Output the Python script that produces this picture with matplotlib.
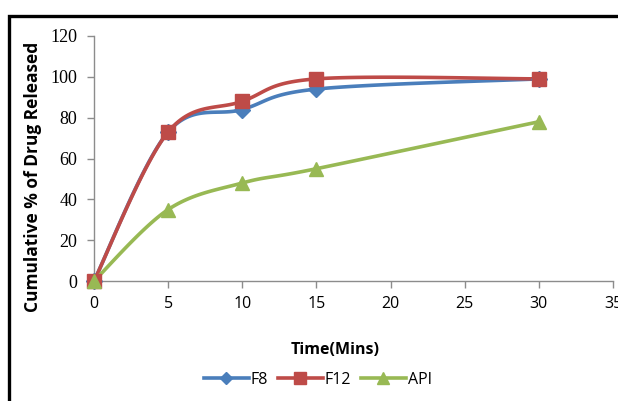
import numpy as np
import matplotlib
matplotlib.use("Agg")
import matplotlib.pyplot as plt
from matplotlib.patches import Rectangle
from matplotlib.lines import Line2D

time = [0, 5, 10, 15, 30]
f8 = [0, 73, 84, 94, 99]
f12 = [0, 73, 88, 99, 99]
api = [0, 35, 48, 55, 78]

def smooth(x, y, n=30):
    # Excel-style smoothed line: cubic Bezier through points, tangents from neighbours
    P = np.column_stack([x, y]).astype(float)
    P = np.vstack([P[0], P, P[-1]])
    out = []
    t = np.linspace(0, 1, n)[:, None]
    for i in range(1, len(P) - 2):
        p0, p1, p2, p3 = P[i - 1], P[i], P[i + 1], P[i + 2]
        c1 = p1 + (p2 - p0) / 6.0
        c2 = p2 - (p3 - p1) / 6.0
        seg = (1-t)**3*p1 + 3*(1-t)**2*t*c1 + 3*(1-t)*t**2*c2 + t**3*p2
        out.append(seg if i == 1 else seg[1:])
    s = np.vstack(out)
    return s[:, 0], s[:, 1]

fig = plt.figure(figsize=(6.18, 4.01), dpi=100)
fig.patches.append(Rectangle((9/618, -0.1), 1.2, 1 - 16/401 + 0.1, transform=fig.transFigure,
                             fill=False, edgecolor="black", lw=2.4))
ax = fig.add_axes([94/618, 1 - 281/401, (613-94)/618, (281-36)/401])

series = [("F8", f8, "#4A7EBB", "D", 8),
          ("F12", f12, "#BE4B48", "s", 10),
          ("API", api, "#98B954", "^", 10)]
handles = []
for name, vals, col, mk, ms in series:
    sx, sy = smooth(time, vals)
    ax.plot(sx, sy, color=col, lw=2.6, solid_capstyle="round", zorder=2)
    ax.plot(time, vals, ls="none", marker=mk, ms=ms, color=col, zorder=3)
    handles.append(Line2D([], [], color=col, lw=2.6, marker=mk, ms=ms - 2, label=name))

ax.set_xlim(0, 35)
ax.set_ylim(0, 120)
ax.set_xticks(range(0, 36, 5))
ax.set_yticks(range(0, 121, 20))
for s in ["top", "right"]:
    ax.spines[s].set_visible(False)
for s in ["left", "bottom"]:
    ax.spines[s].set_color("#8C8C8C")
    ax.spines[s].set_linewidth(1.0)
ax.tick_params(axis="both", direction="out", color="#8C8C8C", length=5, width=1)
ax.tick_params(axis="y", pad=7)
ax.tick_params(axis="x", pad=6)
for lab in ax.get_yticklabels():
    lab.set_fontfamily("Liberation Serif")
    lab.set_fontsize(13)
for lab in ax.get_xticklabels():
    lab.set_fontfamily("Open Sans")
    lab.set_fontsize(11.5)
for ln in ax.lines:
    ln.set_clip_on(False)

ax.set_ylabel("Cumulative % of Drug Released", fontsize=12.5, fontweight="bold",
              family="Open Sans")
ax.yaxis.set_label_coords((42 - 94) / 519, (281 - 177) / 245)
fig.text(335/618, 1 - 350/401, "Time(Mins)", ha="center", va="center", fontsize=11.5,
         fontweight="bold", family="Open Sans")
fig.legend(handles=handles, loc="center", bbox_to_anchor=(318/618, 1 - 380/401), ncol=3,
           frameon=False, handlelength=2.8, columnspacing=0.6,
           handletextpad=0.15, prop={"family": "Open Sans", "size": 11.5})

fig.savefig("out.png", dpi=100)
